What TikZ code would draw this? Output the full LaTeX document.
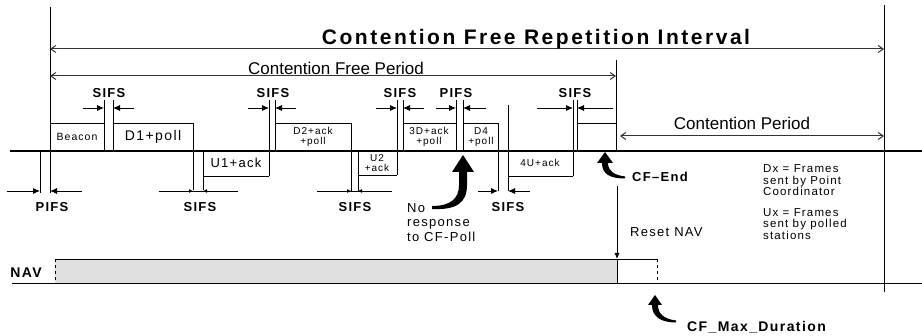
\documentclass[tikz,border=0pt]{standalone}
\usepackage{fontspec}
\setmainfont{Liberation Sans}
\newfontfamily\lab[LetterSpace=10]{Liberation Sans}
\newfontfamily\ttl[LetterSpace=12]{Liberation Sans}
\usetikzlibrary{arrows.meta}
\tikzset{
  ln/.style={line width=0.8pt},
  tl/.style={line width=1.5pt},
  span/.style={line width=1pt,black!80,{Straight Barb[length=5pt,width=7pt]}-{Straight Barb[length=5pt,width=7pt]}},
  hd/.style={line width=0.9pt,-{Latex[length=7pt,width=6pt]}},
  shd/.style={line width=0.9pt,-{Latex[length=4pt,width=4pt]}},
  lbl/.style={font=\lab\bfseries\fontsize{13}{13}\selectfont,inner sep=0pt,anchor=base},
  txt/.style={font=\lab\fontsize{13}{13}\selectfont,inner sep=0pt,anchor=base west},
  leg/.style={font=\lab\fontsize{11.5}{11.5}\selectfont,inner sep=0pt,anchor=base west},
  fr/.style={font=\lab\fontsize{10}{10.5}\selectfont,inner sep=0pt,align=center}
}
\begin{document}
\begin{tikzpicture}[x=1pt,y=-1pt]
\useasboundingbox (0,0) rectangle (922,336);
% main timeline and verticals
\draw[tl] (10,151) -- (922,151);
\draw[ln] (50,7) -- (50,193);
\draw[ln] (40,151) -- (40,193);
\draw[ln] (884,5) -- (884,292);
\draw[ln] (616,60) -- (616,151);
% spans
\coordinate (s1a) at (50,49); \coordinate (s1b) at (884,49);
\coordinate (s2a) at (50,76); \coordinate (s2b) at (616,76);
\coordinate (s3a) at (620,136); \coordinate (s3b) at (884,136);
\draw[span] (s1a) -- (s1b);
\draw[span] (s2a) -- (s2b);
\draw[span] (s3a) -- (s3b);
\node[font=\ttl\bfseries\fontsize{21}{21}\selectfont,inner sep=0pt,anchor=base] (cfri) at (536,45) {Contention Free Repetition Interval};
\node[font=\fontsize{17}{17}\selectfont,inner sep=0pt,anchor=base] (cfp) at (336,75) {Contention Free Period};
\node[font=\fontsize{17}{17}\selectfont,inner sep=0pt,anchor=base] (cp) at (742,130) {Contention Period};
% frames above / below
\draw[ln] (50,123) -- (104,123);
\draw[ln] (104,100) -- (104,151);
\draw[ln] (113,100) -- (113,151);
\draw[ln] (113,123) -- (193,123) -- (193,190);
\draw[ln] (203,151) -- (203,190);
\draw[ln] (203,176) -- (269,176);
\draw[ln] (269,100) -- (269,176);
\draw[ln] (275,100) -- (275,151);
\draw[ln] (275,123) -- (351,123) -- (351,191);
\draw[ln] (358,151) -- (358,191);
\draw[ln] (358,175) -- (397,175);
\draw[ln] (397,100) -- (397,175);
\draw[ln] (403,100) -- (403,151);
\draw[ln] (403,123) -- (456,123);
\draw[ln] (456,100) -- (456,151);
\draw[ln] (463,100) -- (463,151);
\draw[ln] (463,123) -- (498,123) -- (498,191);
\draw[ln] (508,105) -- (508,191);
\draw[ln] (508,176) -- (573,176);
\draw[ln] (573,100) -- (573,176);
\draw[ln] (577,100) -- (577,151);
\draw[ln] (577,123) -- (616,123);
% frame labels
\node[fr,font=\lab\fontsize{10.5}{10.5}\selectfont] (beacon) at (77,137) {Beacon};
\node[fr,font=\lab\fontsize{14}{14}\selectfont] (d1) at (153,137) {D1+poll};
\node[fr,font=\lab\fontsize{13}{13}\selectfont] (u1) at (236,163) {U1+ack};
\node[fr] (d2) at (313,137) {D2+ack\\+poll};
\node[fr] (u2) at (377,163) {U2\\+ack};
\node[fr] (d3) at (429,137) {3D+ack\\+poll};
\node[fr] (d4) at (481,137) {D4\\+poll};
\node[fr] (u4) at (540,163) {4U+ack};
% IFS markers above
\draw[hd] (83,108) -- (104,108); \draw[hd] (134,108) -- (113,108);
\draw[hd] (248,108) -- (269,108); \draw[hd] (296,108) -- (275,108);
\draw[hd] (376,108) -- (397,108); \draw[hd] (424,108) -- (403,108);
\draw[hd] (436,108) -- (456,108); \draw[hd] (486,108) -- (463,108);
\draw[hd] (537,108) -- (573,108); \draw[hd] (613,108) -- (577,108);
\node[lbl] (sa1) at (109,98) {SIFS};
\node[lbl] (sa2) at (273,98) {SIFS};
\node[lbl] (sa3) at (400,98) {SIFS};
\node[lbl] (pa1) at (456,98) {PIFS};
\node[lbl] (sa4) at (575,98) {SIFS};
% IFS markers below
\draw[hd] (7,191) -- (40,191); \draw[hd] (82,191) -- (50,191);
\draw[ln] (159,191) -- (238,191);
\draw[shd] (178,191) -- (193,191); \draw[shd] (218,191) -- (203,191);
\draw[ln] (317,191) -- (392,191);
\draw[shd] (336,191) -- (351,191); \draw[shd] (373,191) -- (358,191);
\draw[hd] (478,191) -- (498,191); \draw[hd] (530,191) -- (508,191);
\node[lbl] (pb1) at (52,212) {PIFS};
\node[lbl] (sb1) at (200,212) {SIFS};
\node[lbl] (sb2) at (355,212) {SIFS};
\node[lbl] (sb3) at (508,212) {SIFS};
% no response arrow
\fill (432,206) .. controls (450,206) and (459,199) .. (459,185) -- (459,172) -- (452,172) -- (463,155)
  -- (474,172) -- (467,172) -- (467,185) .. controls (467,204) and (455,210) .. (432,209) -- cycle;
\node[txt] (nr1) at (407,213) {No};
\node[txt] (nr2) at (407,227) {response};
\node[txt] (nr3) at (407,242) {to CF-Poll};
% CF-End arrow
\fill (605,152) -- (613,163) -- (608,163) .. controls (608,171) and (614,175) .. (625,176.5) -- (625,178.5)
  .. controls (610,178.5) and (602,174) .. (602,163) -- (597,163) -- cycle;
\node[lbl,anchor=base west] (cfend) at (632,182) {CF–End};
% Reset NAV
\draw[ln,-{Latex[length=6pt,width=5pt]}] (617,186) -- (617,259);
\node[txt] (reset) at (630,237) {Reset NAV};
% legend
\node[leg] (l1) at (763,173) {Dx = Frames};
\node[leg] (l2) at (763,184.5) {sent by Point};
\node[leg] (l3) at (763,196) {Coordinator};
\node[leg] (l4) at (763,216.5) {Ux = Frames};
\node[leg] (l5) at (763,228) {sent by polled};
\node[leg] (l6) at (763,239.5) {stations};
% NAV
\fill[black!12] (55,259) rectangle (617,284);
\draw[ln] (55,259) -- (657,259);
\draw[ln,dashed] (55,259) -- (55,284);
\draw[ln,dashed] (657,259) -- (657,284);
\draw[ln] (617,259) -- (617,284);
\draw[line width=1pt] (12,284) -- (922,284);
\node[lbl,font=\lab\bfseries\fontsize{14}{14}\selectfont] (nav) at (26,278) {NAV};
% CF_Max_Duration arrow
\fill (655,295) -- (662,305) -- (658,305) .. controls (658,313) and (663,319) .. (676,320.5) -- (676,322.5)
  .. controls (660,322.5) and (652,316) .. (652,305) -- (648,305) -- cycle;
\node[lbl,anchor=base west,font=\lab\bfseries\fontsize{14}{14}\selectfont] (cfmax) at (687,332) {CF\_Max\_Duration};
\end{tikzpicture}
\end{document}
